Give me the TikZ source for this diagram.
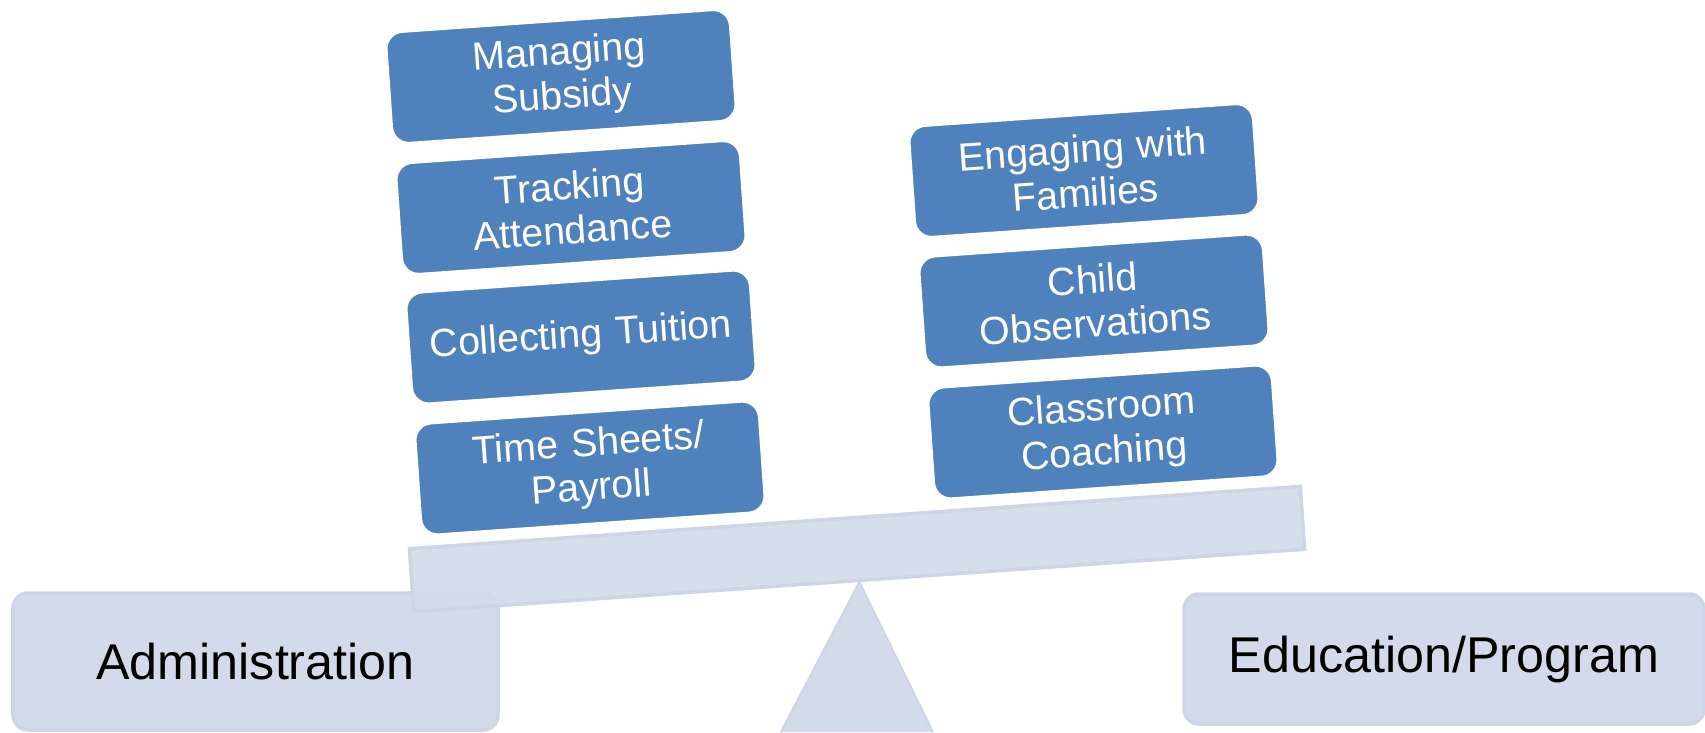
\documentclass[tikz,border=0pt]{standalone}
\usepackage{fontspec}
\setmainfont{Liberation Sans}
\usetikzlibrary{positioning}
\definecolor{boxblue}{RGB}{79,129,189}
\definecolor{panel}{RGB}{211,219,234}
\definecolor{panelline}{RGB}{205,213,231}

\begin{document}
\begin{tikzpicture}[
  task/.style={rotate=4, draw=white, line width=0.8pt, fill=boxblue,
    rounded corners=0.17cm, minimum width=3.45cm, minimum height=1.12cm,
    inner sep=0pt, text width=3.3cm, align=center, text=white,
    font=\fontsize{11.2}{12.6}\selectfont},
  side/.style={draw=panelline, line width=1pt, fill=panel,
    rounded corners=0.15cm, inner sep=0pt,
    font=\fontsize{14.3}{16}\selectfont}
]
\useasboundingbox (0,0) rectangle (17.05,7.32);

% the two sides
\node[side, minimum width=4.85cm, minimum height=1.37cm] (admin) at (2.555,0.705) {Administration};
\node[side, minimum width=5.2cm, minimum height=1.3cm] (edu) at (14.44,0.73) {Education/Program};

% beam and fulcrum
\node[rotate=4, fill=panel, fill opacity=0.93, draw=panelline, line width=1pt,
      minimum width=8.93cm, minimum height=0.63cm, inner sep=0pt] (beam) at (8.57,1.83) {};
\coordinate (pivot) at (beam.south);
\fill[panel] (7.81,0) -- (pivot) -- (9.33,0) -- cycle;
\draw[panelline, line width=0.6pt] (7.81,0) -- (pivot) -- (9.33,0);

% administration tasks
\node[task] (subsidy)    at (5.61,6.555) {Managing\\Subsidy};
\node[task] (attendance) at (5.71,5.245) {Tracking\\Attendance};
\node[task] (tuition)    at (5.81,3.95)  {Collecting Tuition};
\node[task] (payroll)    at (5.90,2.64)  {Time Sheets/\\Payroll};

% program tasks
\node[task] (families)   at (10.84,5.615) {Engaging with\\Families};
\node[task] (observe)    at (10.94,4.31)  {Child\\Observations};
\node[task] (coaching)   at (11.03,3.00)  {Classroom\\Coaching};
\end{tikzpicture}
\end{document}
